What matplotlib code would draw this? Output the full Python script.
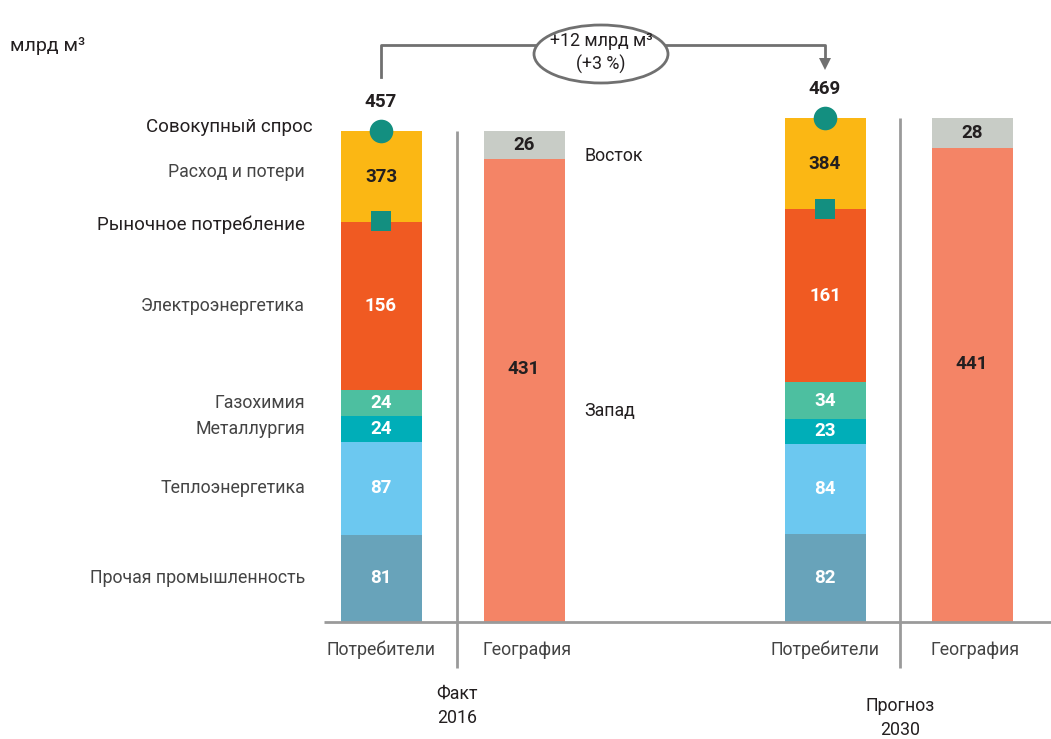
import matplotlib
matplotlib.use("Agg")
import matplotlib.pyplot as plt
from matplotlib.patches import Ellipse

plt.rcParams['font.family'] = ['Roboto', 'DejaVu Sans']

# consumer segments, bottom to top
sectors = ["Прочая промышленность", "Теплоэнергетика", "Металлургия",
           "Газохимия", "Электроэнергетика"]
sector_colors = ["#68A3BA", "#6CC8F0", "#00AEB8", "#4DBFA0", "#F05A22"]
cons_2016 = [81, 87, 24, 24, 156]
cons_2030 = [82, 84, 23, 34, 161]
market = [373, 384]          # рыночное потребление
total = [457, 469]           # совокупный спрос
west = [431, 441]
east = [26, 28]
periods = ["Факт\n2016", "Прогноз\n2030"]
delta_text = "+12 млрд м³\n(+3 %)"

YELLOW = "#FBB714"
MARK = "#138F80"
WEST_C = "#F48466"
EAST_C = "#C8CCC6"
GRID = "#9A9A9A"
DARK = "#231F20"
LABEL = "#444444"

LBL_FS = 12.8
NUM_FS = 13.5

W, H = 1051, 739
base_px = 117          # baseline height from bottom, px
scale = 1.0744         # px per unit

fig = plt.figure(figsize=(W / 100, H / 100), dpi=100)
ax = fig.add_axes([0, 0, 1, 1])
ax.set_xlim(0, W)
ax.set_ylim(-base_px / scale, (H - base_px) / scale)
ax.axis("off")

def py(v_px_from_top):
    # convert a pixel offset from top into data units
    return (H - v_px_from_top - base_px) / scale

bw = 81
cons_x = [381, 825]
geo_x = [524, 972]
sep_x = [457, 900]

for i, vals in enumerate([cons_2016, cons_2030]):
    x = cons_x[i]
    bottom = 0
    for name, v, c in zip(sectors, vals, sector_colors):
        ax.bar(x, v, bw, bottom=bottom, color=c, linewidth=0)
        ax.text(x, bottom + v / 2, str(v), ha="center", va="center",
                color="white", fontsize=NUM_FS, fontweight="bold")
        if i == 0:
            ax.text(305, bottom + v / 2, name, ha="right", va="center",
                    color=LABEL, fontsize=LBL_FS)
        bottom += v
    # расход и потери
    ax.bar(x, total[i] - bottom, bw, bottom=bottom, color=YELLOW, linewidth=0)
    ax.text(x, (bottom + total[i]) / 2, str(market[i]), ha="center", va="center",
            color=DARK, fontsize=NUM_FS, fontweight="bold")
    if i == 0:
        ax.text(305, (bottom + total[i]) / 2 + 4, "Расход и потери", ha="right",
                va="center", color=LABEL, fontsize=LBL_FS)
        ax.text(313, total[i] + 4, "Совокупный спрос", ha="right", va="center",
                color=DARK, fontsize=13.5)
        ax.text(305, market[i] - 3, "Рыночное потребление", ha="right",
                va="center", color=DARK, fontsize=13.5)
    ax.plot(x, total[i], "o", color=MARK, markersize=17, markeredgewidth=0)
    ax.plot(x, market[i], "s", color=MARK, markersize=14, markeredgewidth=0)
    ax.text(x, total[i] + 27, str(total[i]), ha="center", va="center",
            color=DARK, fontsize=NUM_FS, fontweight="bold")

    # география
    gx = geo_x[i]
    ax.bar(gx, west[i], bw, color=WEST_C, linewidth=0)
    ax.bar(gx, east[i], bw, bottom=west[i], color=EAST_C, linewidth=0)
    ax.text(gx, west[i] / 2 + 20, str(west[i]), ha="center", va="center",
            color=DARK, fontsize=NUM_FS, fontweight="bold")
    ax.text(gx, west[i] + east[i] / 2, str(east[i]), ha="center", va="center",
            color=DARK, fontsize=NUM_FS, fontweight="bold")
    if i == 0:
        ax.text(gx + 60, py(156), "Восток", ha="left", va="center",
                color=DARK, fontsize=LBL_FS)
        ax.text(gx + 60, py(411), "Запад", ha="left", va="center",
                color=DARK, fontsize=LBL_FS)

    # separator and category labels
    ax.plot([sep_x[i], sep_x[i]], [total[i], py(668)], color=GRID, lw=2,
            solid_capstyle="butt")
    ax.text(x, py(650), "Потребители", ha="center", va="center",
            color=LABEL, fontsize=LBL_FS)
    ax.text(gx + 3, py(650), "География", ha="center", va="center",
            color=LABEL, fontsize=LBL_FS)

ax.text(sep_x[0], py(706), periods[0], ha="center", va="center", color=DARK,
        fontsize=LBL_FS, linespacing=1.4)
ax.text(sep_x[1], py(718), periods[1], ha="center", va="center", color=DARK,
        fontsize=LBL_FS, linespacing=1.4)

# baseline
ax.plot([324, W], [0, 0], color=GRID, lw=2, solid_capstyle="butt")

# growth bracket
top_y = py(45)
ax.plot([cons_x[0], cons_x[0], cons_x[1], cons_x[1]],
        [py(77), top_y, top_y, py(62)], color="#707070", lw=2)
ax.plot(cons_x[1], py(64), marker="v", color="#707070", markersize=8,
        markeredgewidth=0)
ax.add_patch(Ellipse((601, py(54)), 134, 58 / scale, facecolor="white",
                     edgecolor="#707070", lw=2, zorder=3))
ax.text(601, py(53), delta_text, ha="center", va="center", color=DARK,
        fontsize=LBL_FS, linespacing=1.3, zorder=4)

ax.text(10, py(46), "млрд м³", ha="left", va="center", color=DARK,
        fontsize=14)

fig.savefig("out.png", dpi=100)
